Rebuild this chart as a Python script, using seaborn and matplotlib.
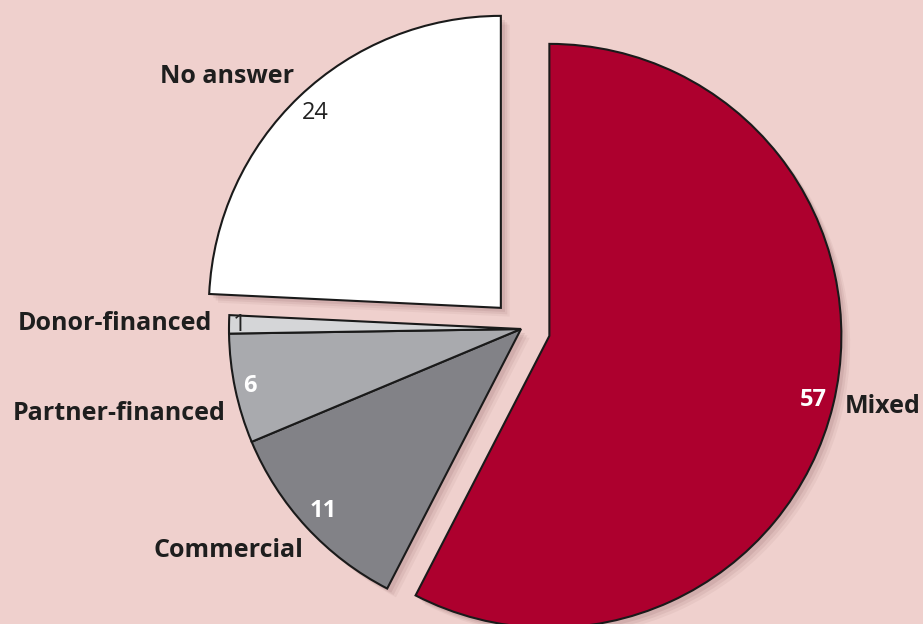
import numpy as np
import matplotlib.pyplot as plt
import seaborn as sns

# Data (clockwise from top)
labels = ["Mixed", "Commercial", "Partner-financed", "Donor-financed", "No answer"]
values = [57, 11, 6, 1, 24]
colors = ["#ad002e", "#828287", "#a9aaae", "#d5d6d8", "#ffffff"]
explode = [0.1, 0, 0, 0, 0.1]

sns.set_theme(style="white")
plt.rcParams['font.family'] = ['Open Sans', 'DejaVu Sans']
bg = "#efd0cd"

fig = plt.figure(figsize=(9.23, 6.24), dpi=100, facecolor=bg)
ax = fig.add_axes([0, 0, 1, 1])
ax.set_facecolor(bg)

# soft drop shadow
for k, a in [(0.03, 0.05), (0.022, 0.07), (0.014, 0.09)]:
    ax.pie(values, explode=explode, startangle=90, counterclock=False,
           center=(k, -k), colors=["#5a2a2a"] * len(values),
           wedgeprops=dict(linewidth=0, alpha=a))

wedges, _ = ax.pie(values, explode=explode, startangle=90, counterclock=False,
                   colors=colors,
                   wedgeprops=dict(edgecolor="#1a1a1a", linewidth=1.5))

# value labels inside the wedges
dist = [0.93, 0.92, 0.95, 0.965, 0.92]
num_color = ["white", "white", "white", "#222222", "#222222"]
num_weight = ["bold", "bold", "bold", "normal", "normal"]
for w, v, d, c, fw in zip(wedges, values, dist, num_color, num_weight):
    ang = np.deg2rad((w.theta1 + w.theta2) / 2)
    cx, cy = w.center
    ax.text(cx + d * w.r * np.cos(ang), cy + d * w.r * np.sin(ang), str(v),
            ha="center", va="center", fontsize=17, color=c, fontweight=fw)

# category labels
lab_pos = {
    "Mixed": (0.9155, 0.349, "left"),
    "Commercial": (0.329, 0.117, "right"),
    "Partner-financed": (0.2449, 0.338, "right"),
    "Donor-financed": (0.2297, 0.481, "right"),
    "No answer": (0.246, 0.877, "center"),
}
for name in labels:
    x, y, ha = lab_pos[name]
    ax.text(x, y, name, transform=ax.transAxes, ha=ha, va="center",
            fontsize=18, fontweight="bold", color="#1e1e1e")

px = 292.0
cx0, cy0 = 521, 329
ax.set_aspect("auto")
ax.set_xlim(-cx0 / px, (923 - cx0) / px)
ax.set_ylim(-(624 - cy0) / px, cy0 / px)
ax.axis("off")

fig.savefig("out.png", dpi=100, facecolor=bg)
